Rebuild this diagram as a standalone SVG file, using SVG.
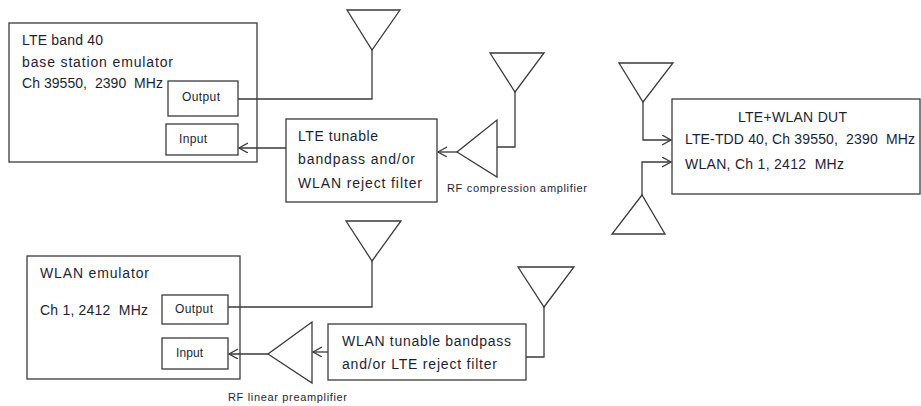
<svg xmlns="http://www.w3.org/2000/svg" width="921" height="406" viewBox="0 0 921 406">
<defs>
<style>
.box{fill:#fff;stroke:#3a3a3a;stroke-width:1.3}
.ant{fill:none;stroke:#3a3a3a;stroke-width:1.3;stroke-linejoin:miter}
.wire{fill:none;stroke:#3a3a3a;stroke-width:1.3}
.t{font-family:"Liberation Sans","Open Sans",sans-serif;font-size:14px;fill:#1e1e32}
.s{font-family:"Liberation Sans","Open Sans",sans-serif;font-size:12px;fill:#1e1e32}
.lbl{font-family:"Liberation Sans","Open Sans",sans-serif;font-size:11px;fill:#1e1e32}
</style>
<marker id="arr" markerUnits="userSpaceOnUse" markerWidth="12" markerHeight="12" refX="9" refY="5" orient="auto" viewBox="0 0 12 12">
<path d="M0,0 L9,5 L0,10" fill="none" stroke="#3a3a3a" stroke-width="1.3"/>
</marker>
</defs>
<rect width="921" height="406" fill="#fff"/>

<g id="lte-emulator">
<rect class="box" x="9" y="23" width="248" height="139"/>
<text class="t" x="22" y="45" textLength="81">LTE band 40</text>
<text class="t" x="22" y="67" textLength="151">base station emulator</text>
<text class="t" x="22" y="88" xml:space="preserve" textLength="141">Ch 39550,  2390  MHz</text>
</g>
<g id="lte-output">
<rect class="box" x="168" y="81" width="70" height="35"/>
<text class="s" x="182" y="101" textLength="38">Output</text>
</g>
<g id="lte-input">
<rect class="box" x="166" y="124" width="72" height="31"/>
<text class="s" x="179" y="143" textLength="28">Input</text>
</g>

<g id="lte-filter">
<rect class="box" x="286" y="119" width="151" height="83"/>
<text class="t" x="298" y="141" textLength="80">LTE tunable</text>
<text class="t" x="298" y="164" textLength="117">bandpass and/or</text>
<text class="t" x="298" y="188" textLength="124">WLAN reject filter</text>
</g>

<g id="rf-compression-amp">
<polygon class="ant" points="497,120 497,177 457,152"/>
<text class="lbl" x="447" y="192" textLength="140">RF compression amplifier</text>
</g>

<g id="antenna-lte-tx"><polygon class="ant" points="347,10 400,10 372,50"/></g>
<g id="antenna-lte-rx"><polygon class="ant" points="490,53 544,53 515,92"/></g>
<g id="antenna-dut-1"><polygon class="ant" points="619,63 673,63 643,102"/></g>
<g id="antenna-dut-2"><polygon class="ant" points="642,195 612,234 665,234"/></g>
<g id="antenna-wlan-tx"><polygon class="ant" points="346,221 401,221 372,261"/></g>
<g id="antenna-wlan-rx"><polygon class="ant" points="518,267 574,267 544,307"/></g>

<g id="dut">
<rect class="box" x="672" y="99" width="248" height="95"/>
<text class="t" x="738" y="122" textLength="109">LTE+WLAN DUT</text>
<text class="t" x="685" y="144" xml:space="preserve" textLength="230">LTE-TDD 40, Ch 39550,  2390  MHz</text>
<text class="t" x="685" y="169" xml:space="preserve" textLength="159">WLAN, Ch 1, 2412  MHz</text>
</g>

<g id="wlan-emulator">
<rect class="box" x="27" y="256" width="213" height="123"/>
<text class="t" x="40" y="278" textLength="109">WLAN emulator</text>
<text class="t" x="40" y="315" xml:space="preserve" textLength="108">Ch 1, 2412  MHz</text>
</g>
<g id="wlan-output">
<rect class="box" x="162" y="295" width="66" height="29"/>
<text class="s" x="175" y="313" textLength="38">Output</text>
</g>
<g id="wlan-input">
<rect class="box" x="162" y="338" width="66" height="31"/>
<text class="s" x="176" y="357" textLength="27">Input</text>
</g>

<g id="rf-linear-preamp">
<polygon class="ant" points="312,322 312,383 268,354"/>
<text class="lbl" x="228" y="401" textLength="119">RF linear preamplifier</text>
</g>

<g id="wlan-filter">
<rect class="box" x="328" y="324" width="198" height="56"/>
<text class="t" x="342" y="346" textLength="169">WLAN tunable bandpass</text>
<text class="t" x="342" y="369" textLength="155">and/or LTE reject filter</text>
</g>

<g id="connectors">
<polyline class="wire" points="238,99 372,99 372,50"/>
<line class="wire" x1="286" y1="148" x2="239" y2="148" marker-end="url(#arr)"/>
<polyline class="wire" points="515,92 515,147 497,147"/>
<line class="wire" x1="457" y1="152" x2="438" y2="152" marker-end="url(#arr)"/>
<polyline class="wire" points="643,102 643,140 671,140" marker-end="url(#arr)"/>
<polyline class="wire" points="642,195 642,162 671,162" marker-end="url(#arr)"/>
<polyline class="wire" points="228,307 372,307 372,261"/>
<line class="wire" x1="328" y1="352" x2="313" y2="352" marker-end="url(#arr)"/>
<line class="wire" x1="268" y1="354" x2="229" y2="354" marker-end="url(#arr)"/>
<polyline class="wire" points="544,307 544,357 526,357"/>
</g>
</svg>
